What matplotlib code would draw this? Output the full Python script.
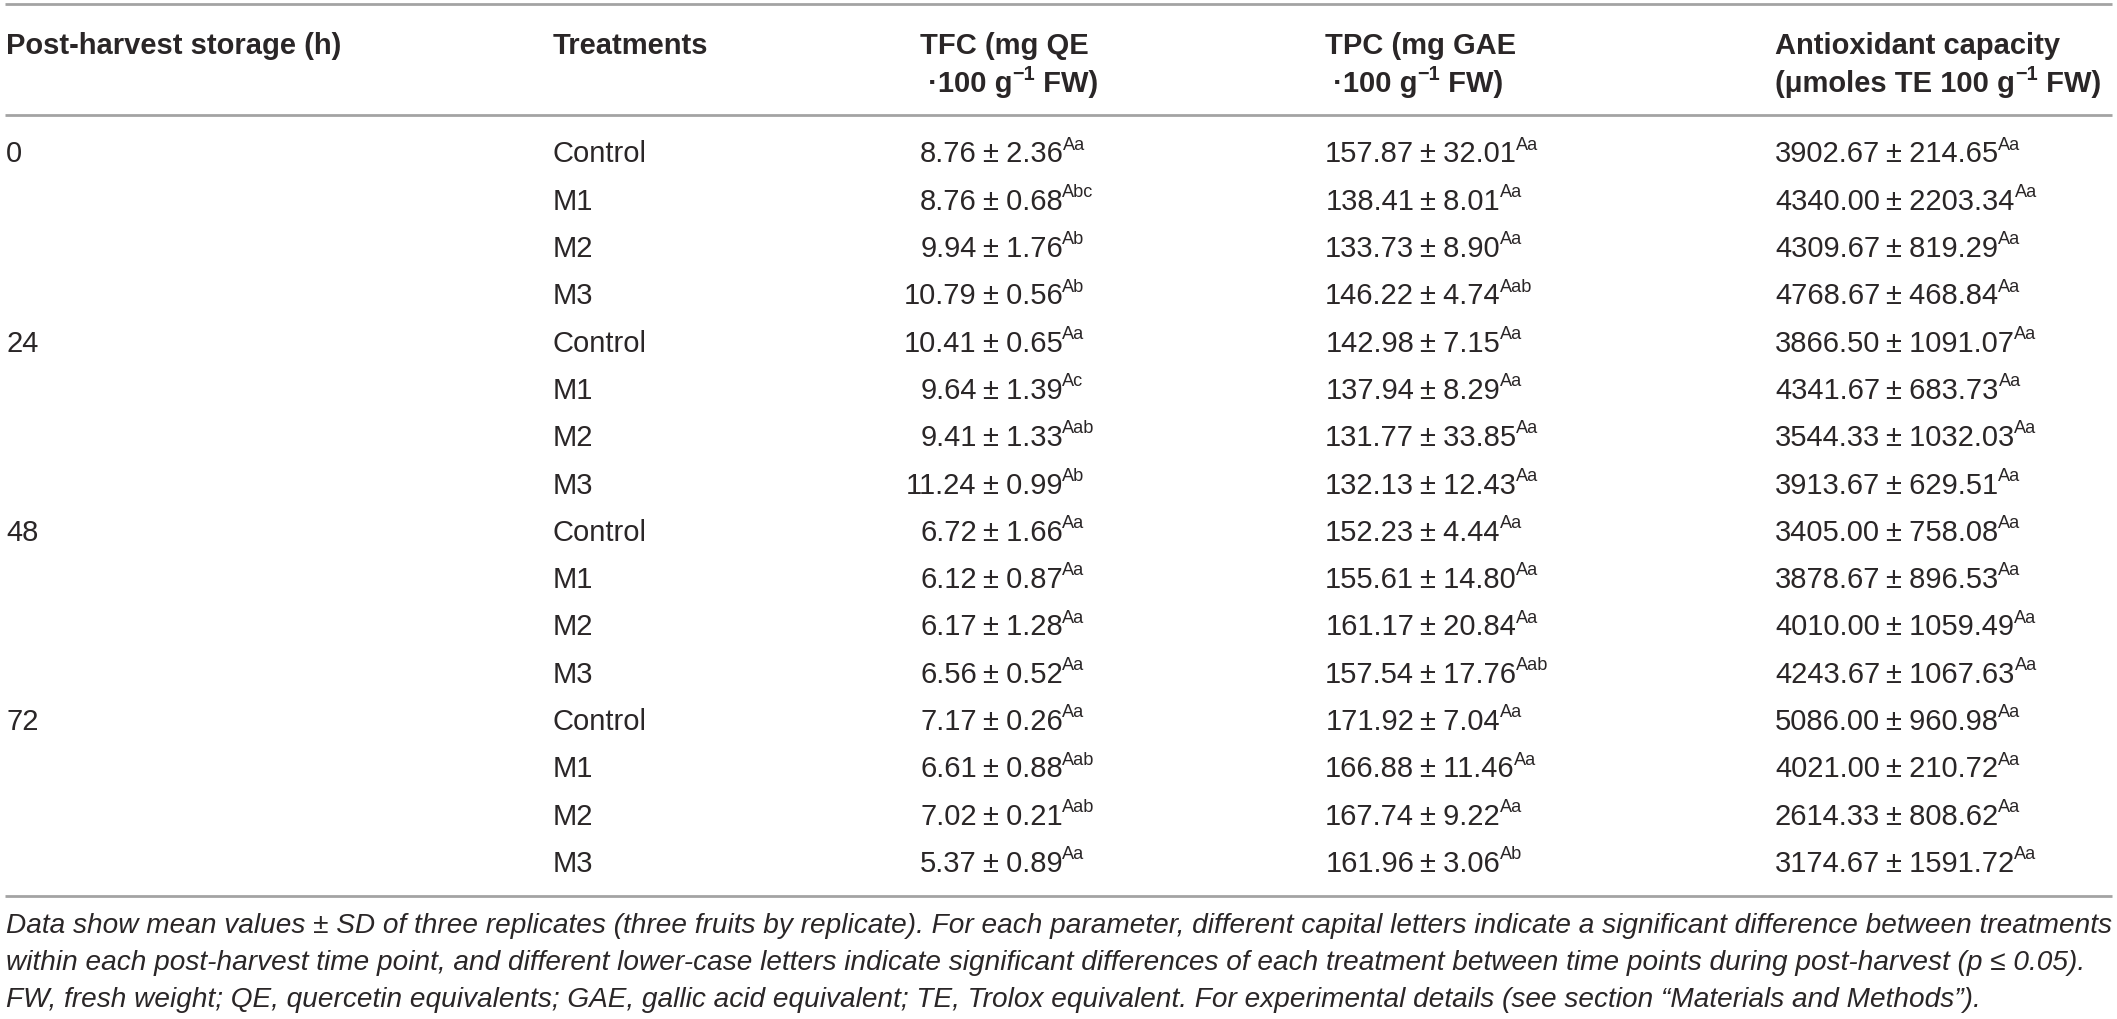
import matplotlib
matplotlib.use("Agg")
import matplotlib.pyplot as plt
from matplotlib import font_manager

W, H = 2117, 1020
DPI = 100

# ---------------- data ----------------
times = ["0", "24", "48", "72"]
treatments = ["Control", "M1", "M2", "M3"]

tfc_mean = [8.76, 8.76, 9.94, 10.79, 10.41, 9.64, 9.41, 11.24,
            6.72, 6.12, 6.17, 6.56, 7.17, 6.61, 7.02, 5.37]
tfc_sd = [2.36, 0.68, 1.76, 0.56, 0.65, 1.39, 1.33, 0.99,
          1.66, 0.87, 1.28, 0.52, 0.26, 0.88, 0.21, 0.89]
tfc_sig = ["Aa", "Abc", "Ab", "Ab", "Aa", "Ac", "Aab", "Ab",
           "Aa", "Aa", "Aa", "Aa", "Aa", "Aab", "Aab", "Aa"]

tpc_mean = [157.87, 138.41, 133.73, 146.22, 142.98, 137.94, 131.77, 132.13,
            152.23, 155.61, 161.17, 157.54, 171.92, 166.88, 167.74, 161.96]
tpc_sd = [32.01, 8.01, 8.90, 4.74, 7.15, 8.29, 33.85, 12.43,
          4.44, 14.80, 20.84, 17.76, 7.04, 11.46, 9.22, 3.06]
tpc_sig = ["Aa", "Aa", "Aa", "Aab", "Aa", "Aa", "Aa", "Aa",
           "Aa", "Aa", "Aa", "Aab", "Aa", "Aa", "Aa", "Ab"]

aox_mean = [3902.67, 4340.00, 4309.67, 4768.67, 3866.50, 4341.67, 3544.33, 3913.67,
            3405.00, 3878.67, 4010.00, 4243.67, 5086.00, 4021.00, 2614.33, 3174.67]
aox_sd = [214.65, 2203.34, 819.29, 468.84, 1091.07, 683.73, 1032.03, 629.51,
          758.08, 896.53, 1059.49, 1067.63, 960.98, 210.72, 808.62, 1591.72]
aox_sig = ["Aa"] * 16

headers = [
    [[("Post-harvest storage (h)", False)]],
    [[("Treatments", False)]],
    [[("TFC (mg QE", False)], [(" \u00b7100 g", False), ("\u22121", True), (" FW)", False)]],
    [[("TPC (mg GAE", False)], [(" \u00b7100 g", False), ("\u22121", True), (" FW)", False)]],
    [[("Antioxidant capacity", False)], [("(\u03bcmoles TE 100 g", False), ("\u22121", True), (" FW)", False)]],
]

footnote = [
    "Data show mean values \u00b1 SD of three replicates (three fruits by replicate). For each parameter, "
    "different capital letters indicate a significant difference between treatments",
    "within each post-harvest time point, and different lower-case letters indicate significant "
    "differences of each treatment between time points during post-harvest (p \u2264 0.05).",
    "FW, fresh weight; QE, quercetin equivalents; GAE, gallic acid equivalent; TE, Trolox equivalent. "
    "For experimental details (see section \u201cMaterials and Methods\u201d).",
]

# ---------------- style ----------------
avail = {f.name for f in font_manager.fontManager.ttflist}
FAM = [f for f in ["Liberation Sans", "Arial", "Helvetica"] if f in avail] + ["DejaVu Sans"]

FS = 21.0                      # body font size (pt)
PX = DPI / 72                  # px per pt
CAP = 0.72                     # cap height / em
LINE_C = "#a3a3a3"
TXT_C = "#2a2627"

col_x = [6, 553, 920, 1325, 1775]      # column left edges (px)

y_top, y_rule1, y_rule2 = 5, 116, 897
y_head = [43, 82]                       # header line centres
y_row0, row_h = 152, 47.3               # first row centre, row pitch
y_foot0, foot_h = 933, 37               # footnote baselines

fig = plt.figure(figsize=(W / DPI, H / DPI), dpi=DPI)
ax = fig.add_axes([0, 0, 1, 1])
ax.set_xlim(0, W)
ax.set_ylim(H, 0)
ax.axis("off")
renderer = fig.canvas.get_renderer()


def px_width(t):
    return t.get_window_extent(renderer=renderer).width


def base(yc, fs=FS):
    """baseline for text whose cap-height centre is yc"""
    return yc + CAP * fs * PX / 2


def draw_segments(x, yb, segs, weight="normal", style="normal", fs=FS,
                  sup_scale=0.62, rise=0.44):
    """Draw (text, is_superscript) segments left-aligned at x on baseline yb."""
    cx = x
    for s, sup in segs:
        size = fs * sup_scale if sup else fs
        dy = -rise * fs * PX if sup else 0
        t = ax.text(cx, yb + dy, s, fontsize=size, family=FAM, weight=weight,
                    style=style, color=TXT_C, ha="left", va="baseline")
        cx += px_width(t)
    return cx


def hline(y):
    ax.plot([5, W - 5], [y, y], color=LINE_C, lw=2.0, solid_capstyle="butt")


# rules
hline(y_top)
hline(y_rule1)
hline(y_rule2)

# header
for ci, lines in enumerate(headers):
    for li, segs in enumerate(lines):
        draw_segments(col_x[ci], base(y_head[li]), segs, weight="bold",
                      sup_scale=0.68, rise=0.42)

# body
cols = [(tfc_mean, tfc_sd, tfc_sig), (tpc_mean, tpc_sd, tpc_sig), (aox_mean, aox_sd, aox_sig)]
mean_right = []
for k, (mean, sd, sig) in enumerate(cols):
    t = ax.text(0, 0, f"{mean[0]:.2f}", fontsize=FS, family=FAM)
    mean_right.append(col_x[k + 2] + px_width(t))
    t.remove()

for r in range(16):
    yb = base(y_row0 + r * row_h)
    if r % 4 == 0:
        ax.text(col_x[0], yb, times[r // 4], fontsize=FS, family=FAM, color=TXT_C,
                ha="left", va="baseline")
    ax.text(col_x[1], yb, treatments[r % 4], fontsize=FS, family=FAM, color=TXT_C,
            ha="left", va="baseline")
    for k, (mean, sd, sig) in enumerate(cols):
        xr = mean_right[k]
        ax.text(xr, yb, f"{mean[r]:.2f}", fontsize=FS, family=FAM, color=TXT_C,
                ha="right", va="baseline")
        draw_segments(xr + 5, yb, [("\u00b1", False), (f" {sd[r]:.2f}", False), (sig[r], True)])

# footnote (italic), fitted to table width
t0 = ax.text(0, 0, footnote[0], fontsize=FS, family=FAM, style="italic")
wid = px_width(t0)
t0.remove()
fsz = FS * (W - 6 - 8) / wid
for i, line in enumerate(footnote):
    ax.text(6, y_foot0 + i * foot_h, line, fontsize=fsz, family=FAM, style="italic",
            color=TXT_C, ha="left", va="baseline")

fig.savefig("out.png", dpi=DPI)
